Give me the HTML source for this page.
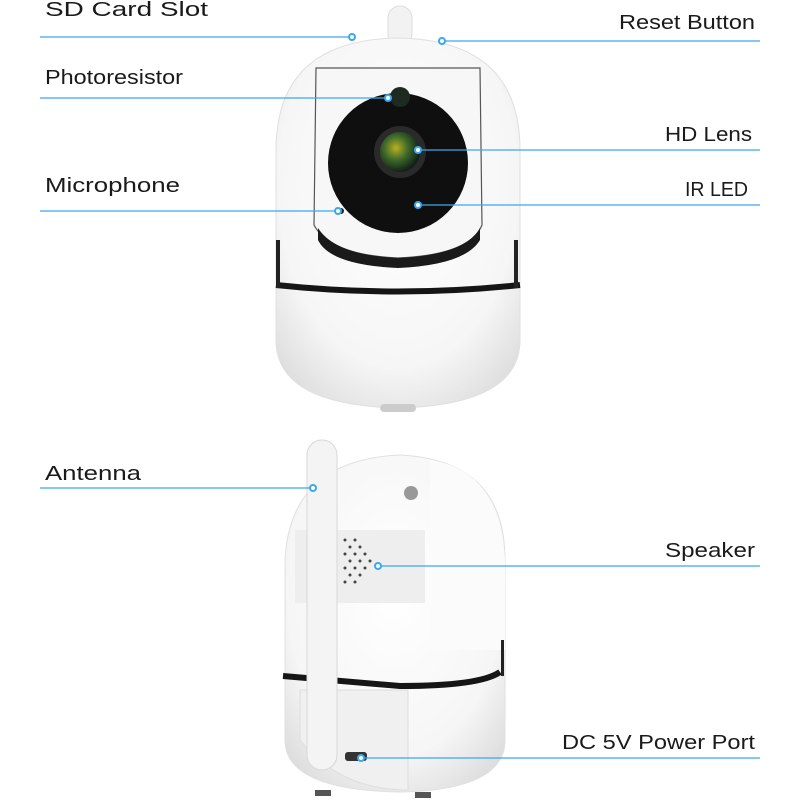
<!DOCTYPE html>
<html><head><meta charset="utf-8"><style>
html,body{margin:0;padding:0;background:#fff;}
svg{display:block}
text{font-family:"Liberation Sans",sans-serif;font-size:20px;fill:#1a1a1a;}
.l{stroke:#3aa8f0;stroke-width:1.2;fill:none}
.d{fill:#fff;stroke:#3aa8f0;stroke-width:2}
</style></head><body>
<svg width="800" height="800" viewBox="0 0 800 800">
<defs>
<radialGradient id="bg" cx="0.5" cy="0.4" r="0.7">
<stop offset="0" stop-color="#ffffff"/><stop offset="0.7" stop-color="#f6f6f6"/><stop offset="1" stop-color="#dcdcdc"/>
</radialGradient>
<radialGradient id="lens" cx="0.4" cy="0.4" r="0.6">
<stop offset="0" stop-color="#b9b020"/><stop offset="0.5" stop-color="#3d6a2a"/><stop offset="1" stop-color="#142018"/>
</radialGradient>
</defs>
<!-- top camera -->
<rect x="388" y="6" width="24" height="40" rx="12" fill="#f2f2f2" stroke="#ddd"/>
<path d="M276 150 Q276 40 398 38 Q520 40 520 150 L520 340 Q520 405 398 408 Q276 405 276 340 Z" fill="url(#bg)" stroke="#e0e0e0"/>
<path d="M316 68 L480 68 L482 225 Q470 255 398 258 Q330 255 314 225 Z" fill="#f7f7f7" stroke="#555" stroke-width="1.2"/>
<path d="M318 228 Q335 255 398 258 Q465 255 480 228 L480 240 Q465 265 398 268 Q330 265 318 240 Z" fill="#1a1a1a"/>
<circle cx="398" cy="163" r="70" fill="#0f0f0f"/>
<circle cx="400" cy="97" r="10" fill="#1d2a22"/>
<circle cx="400" cy="152" r="26" fill="#2a2a2a"/>
<circle cx="400" cy="152" r="20" fill="url(#lens)"/>
<circle cx="341" cy="211" r="3" fill="#222"/>
<path d="M276 285 Q398 298 520 285" stroke="#151515" stroke-width="6" fill="none"/>
<rect x="276" y="240" width="4" height="48" fill="#222"/>
<rect x="514" y="240" width="4" height="48" fill="#222"/>
<rect x="380" y="404" width="36" height="8" rx="4" fill="#ccc"/>
<!-- bottom camera -->
<path d="M285 560 Q290 460 400 455 Q505 460 505 560 L505 740 Q505 790 400 792 Q285 790 285 740 Z" fill="url(#bg)" stroke="#e0e0e0"/>
<path d="M430 460 Q500 470 505 560 L505 650 L430 650 Z" fill="#fbfbfb"/>
<path d="M295 530 L425 530 L425 603 L295 603 Z" fill="#eeeeee"/>
<circle cx="411" cy="493" r="7" fill="#999"/>
<g fill="#444">
<circle cx="345" cy="540" r="1.5"/><circle cx="355" cy="540" r="1.5"/>
<circle cx="350" cy="547" r="1.5"/><circle cx="360" cy="547" r="1.5"/>
<circle cx="345" cy="554" r="1.5"/><circle cx="355" cy="554" r="1.5"/><circle cx="365" cy="554" r="1.5"/>
<circle cx="350" cy="561" r="1.5"/><circle cx="360" cy="561" r="1.5"/><circle cx="370" cy="561" r="1.5"/>
<circle cx="345" cy="568" r="1.5"/><circle cx="355" cy="568" r="1.5"/><circle cx="365" cy="568" r="1.5"/>
<circle cx="350" cy="575" r="1.5"/><circle cx="360" cy="575" r="1.5"/>
<circle cx="345" cy="582" r="1.5"/><circle cx="355" cy="582" r="1.5"/>
</g>
<path d="M283 676 L400 686 Q480 686 500 672" stroke="#151515" stroke-width="6" fill="none"/>
<rect x="501" y="640" width="3" height="36" fill="#222"/>
<path d="M300 690 L408 690 L408 790 Q340 790 300 740 Z" fill="#f0f0f0" stroke="#ddd"/>
<rect x="345" y="752" width="22" height="9" rx="3" fill="#333"/>
<rect x="307" y="440" width="30" height="330" rx="15" fill="#f4f4f4" stroke="#d8d8d8"/>
<rect x="315" y="790" width="16" height="6" fill="#555"/><rect x="415" y="792" width="16" height="6" fill="#555"/>
<!-- labels -->
<text x="45" y="16" textLength="163" lengthAdjust="spacingAndGlyphs">SD Card Slot</text>
<text x="619" y="29" textLength="136" lengthAdjust="spacingAndGlyphs">Reset Button</text>
<text x="45" y="84" textLength="138" lengthAdjust="spacingAndGlyphs">Photoresistor</text>
<text x="665" y="141" textLength="87" lengthAdjust="spacingAndGlyphs">HD Lens</text>
<text x="45" y="192" textLength="135" lengthAdjust="spacingAndGlyphs">Microphone</text>
<text x="685" y="196" textLength="63" lengthAdjust="spacingAndGlyphs">IR LED</text>
<text x="45" y="480" textLength="96" lengthAdjust="spacingAndGlyphs">Antenna</text>
<text x="665" y="557" textLength="90" lengthAdjust="spacingAndGlyphs">Speaker</text>
<text x="562" y="749" textLength="193" lengthAdjust="spacingAndGlyphs">DC 5V Power Port</text>
<line class="l" x1="40" y1="37" x2="352" y2="37"/><circle class="d" cx="352" cy="37" r="3"/>
<line class="l" x1="442" y1="41" x2="760" y2="41"/><circle class="d" cx="442" cy="41" r="3"/>
<line class="l" x1="40" y1="98" x2="388" y2="98"/><circle class="d" cx="388" cy="98" r="3"/>
<line class="l" x1="418" y1="150" x2="760" y2="150"/><circle class="d" cx="418" cy="150" r="3"/>
<line class="l" x1="40" y1="211" x2="338" y2="211"/><circle class="d" cx="338" cy="211" r="3"/>
<line class="l" x1="418" y1="205" x2="760" y2="205"/><circle class="d" cx="418" cy="205" r="3"/>
<line class="l" x1="40" y1="488" x2="313" y2="488"/><circle class="d" cx="313" cy="488" r="3"/>
<line class="l" x1="378" y1="566" x2="760" y2="566"/><circle class="d" cx="378" cy="566" r="3"/>
<line class="l" x1="361" y1="758" x2="760" y2="758"/><circle class="d" cx="361" cy="758" r="3"/>
</svg>
</body></html>
